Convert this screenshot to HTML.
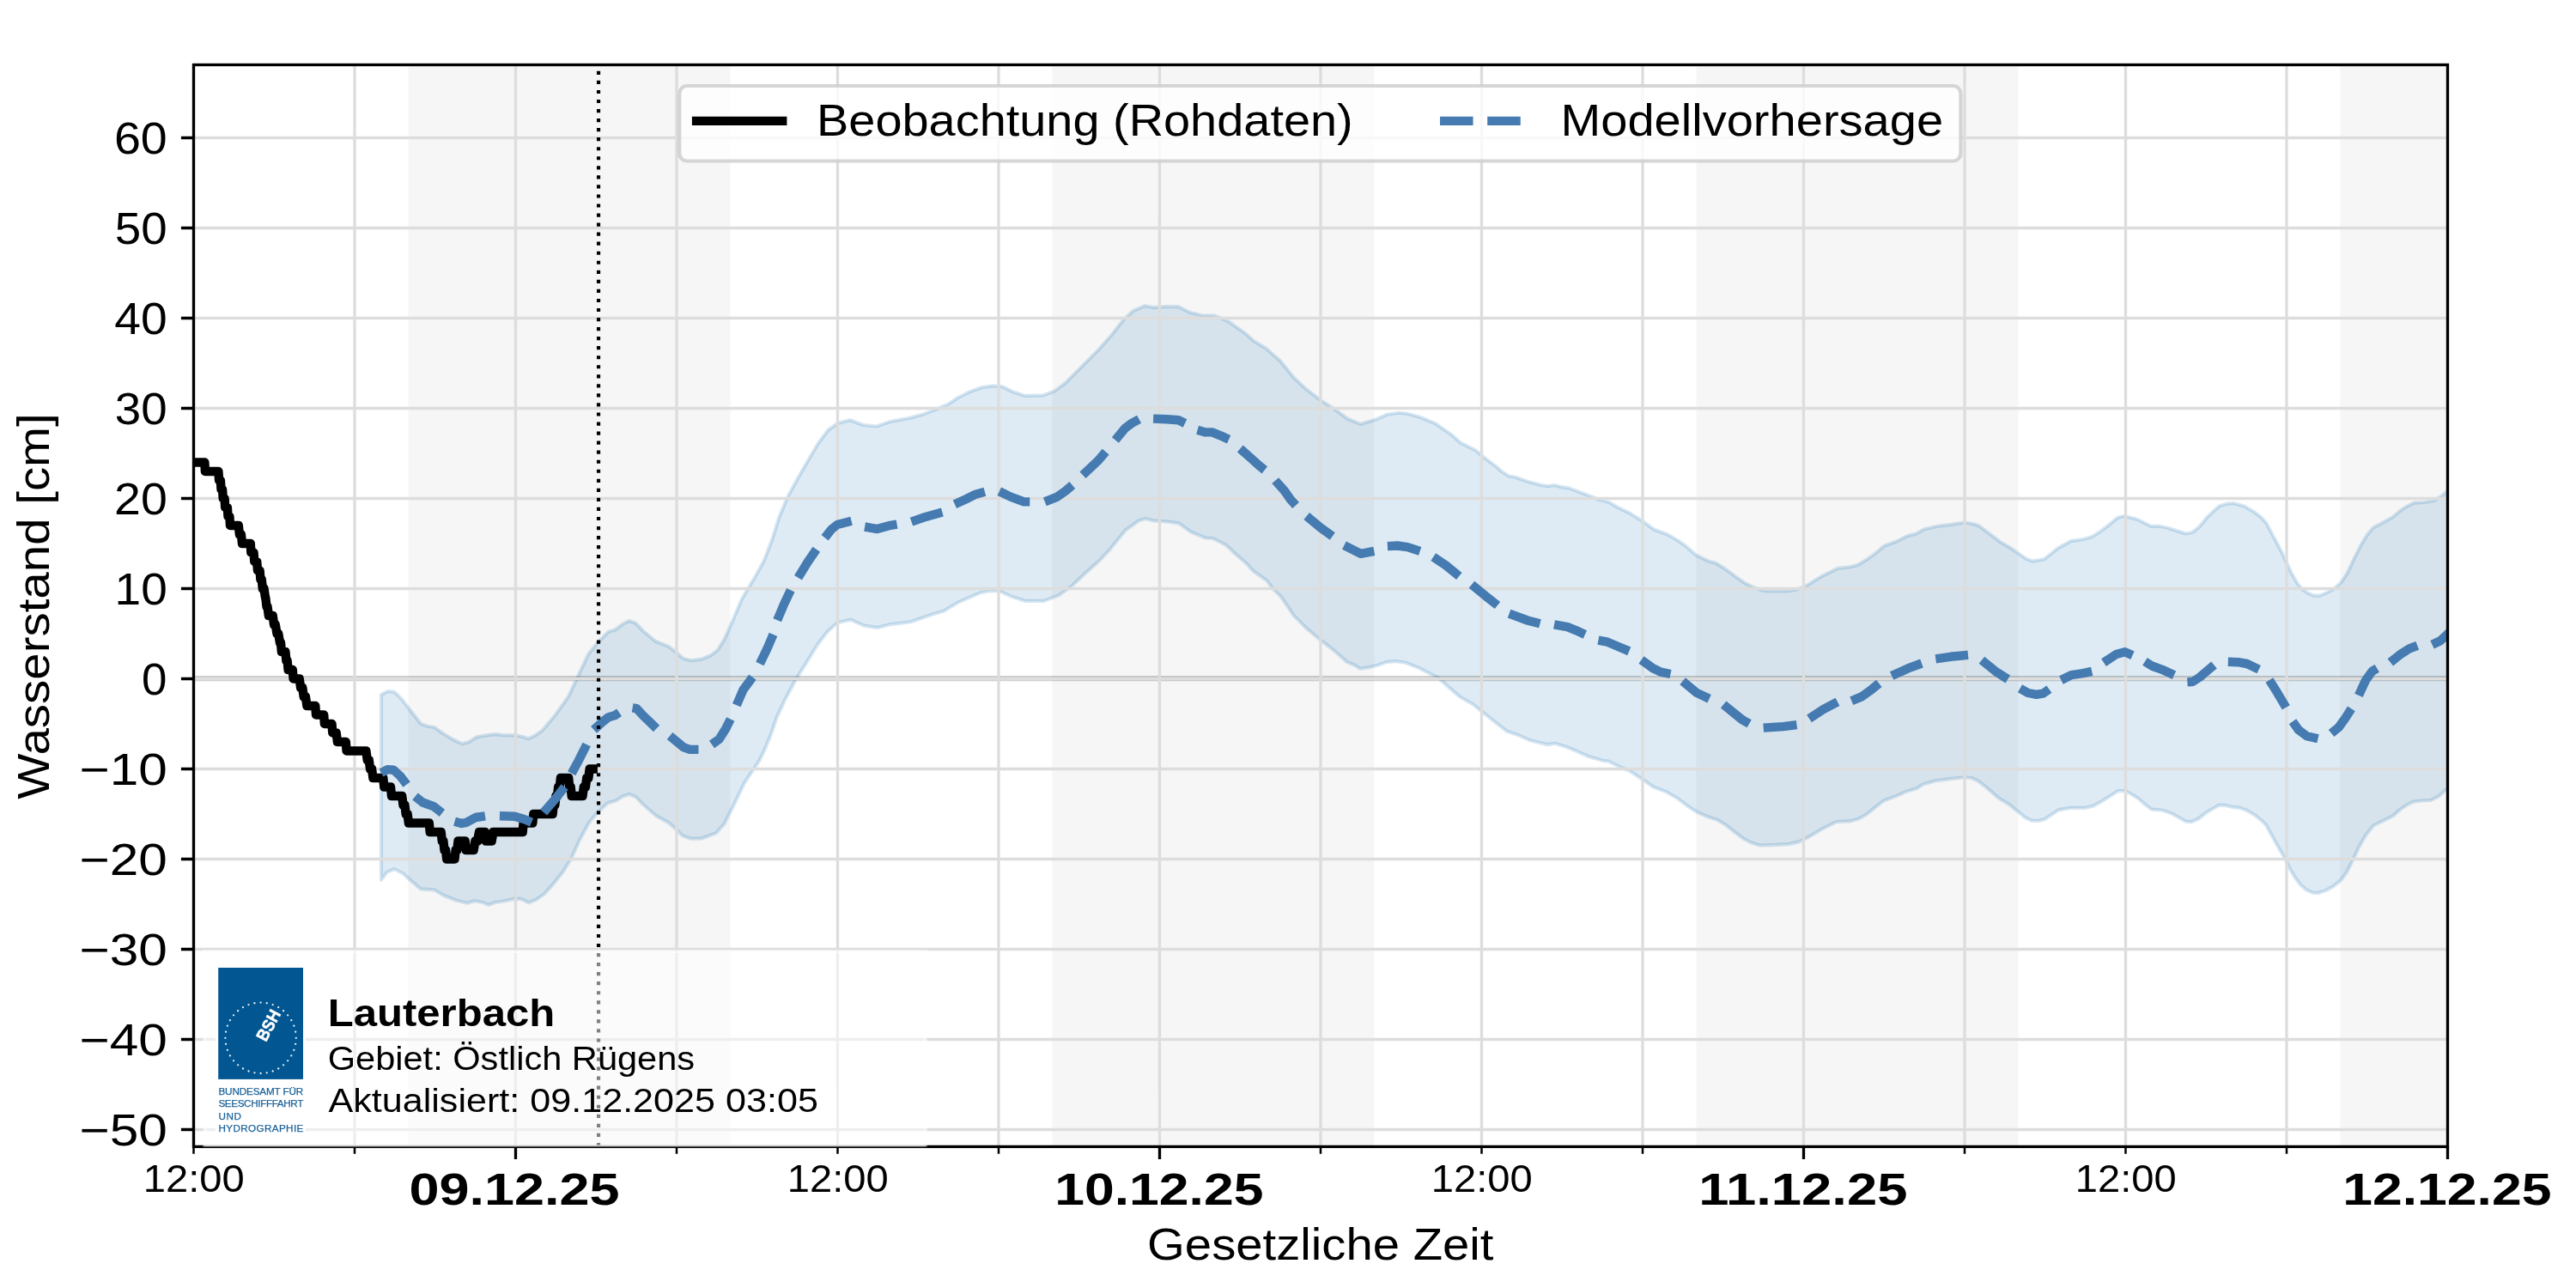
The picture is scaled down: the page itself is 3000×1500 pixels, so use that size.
<!DOCTYPE html>
<html lang="de"><head><meta charset="utf-8"><title>Wasserstand Lauterbach</title>
<style>html,body{margin:0;padding:0;background:#fff}svg{display:block;will-change:transform}text{font-family:"Liberation Sans",sans-serif;white-space:pre}</style>
</head><body>
<svg width="3000" height="1500" viewBox="0 0 3000 1500">
<rect width="3000" height="1500" fill="#fff"/>
<defs><clipPath id="ax"><rect x="225.5" y="75.5" width="2625" height="1259.9"/></clipPath></defs>
<g clip-path="url(#ax)">
<rect x="475.5" y="75.5" width="375" height="1259.9" fill="#f6f6f6"/>
<rect x="1225.5" y="75.5" width="375" height="1259.9" fill="#f6f6f6"/>
<rect x="1975.5" y="75.5" width="375" height="1259.9" fill="#f6f6f6"/>
<rect x="2725.5" y="75.5" width="125" height="1259.9" fill="#f6f6f6"/>
<polygon points="444,809.1 451.7,805 459.3,805.9 467.4,813.8 479.1,828.9 490.1,842.9 497.7,845.8 505.8,847 516.3,854.5 528,861.5 537.9,866.2 545.4,864.4 554.8,858.6 562.9,856.9 576.9,855.1 586.2,856.3 600.2,856.4 609.5,858.3 615.4,860.4 623.5,856.3 631.1,851.3 646.6,832.9 662.1,811.1 673,787.8 685.4,761.4 697,747.5 708.7,735.8 716.5,733.5 725.8,726.5 732.8,722.9 740.5,726 749.1,735 763,746.7 778.6,752.9 788.4,760.7 795.7,766.9 805,769.2 817.4,767.6 828.3,763 836,756.8 843.8,744.3 854.7,719.5 864,697.8 868.6,690 880,670.8 889.7,653.3 899.4,628.1 907.2,602.9 916.9,579.6 928.5,558.2 941.4,535.7 953,516.3 964.6,500.8 975.5,493 989.9,489.2 1005.4,495 1020.9,496.5 1036.5,491.1 1059.8,486.8 1075.3,482.4 1090.8,476.5 1104.4,470.7 1116,463 1129.6,456.2 1143.2,451.3 1156.8,449.4 1167.5,450.3 1180.1,456.6 1193.7,461 1215,460.4 1228.6,455.2 1240.3,446.5 1259.7,427.1 1279.1,407.6 1294.6,390.2 1308.2,372.7 1319.8,362 1333.4,356.2 1343.1,358.1 1358.7,357.2 1372.3,357.2 1385.8,364 1399.4,367.3 1413.6,367.5 1429.1,373.4 1450.5,388.5 1460.2,397.3 1474.7,406 1491.2,420.6 1506.8,440 1520.3,452.6 1538,466.2 1553.3,475.9 1568.9,487.5 1584.4,493.9 1603.8,487.9 1615.5,482.7 1629,480.7 1638.7,481.7 1654.3,486 1671.7,493.3 1691.1,506.9 1700.9,515.7 1718.3,524.4 1730,534.1 1741.6,542.8 1749.4,549.6 1757.1,554.5 1764.9,555.8 1780.4,561.3 1796,565.2 1802.8,566.1 1810.5,565 1819.3,567.4 1827,568.4 1846.4,575.8 1862,581.8 1874,585 1883.7,590.9 1897.3,597.3 1912.8,607 1926.4,616.7 1941.9,622.5 1953.6,629.3 1961.6,634.7 1975.2,646.4 1988.8,653.2 1998.5,656.1 2008.2,661.9 2019.9,670.6 2031.5,678.8 2043.2,684.6 2054.8,688.1 2068.4,688.5 2083.9,688.1 2093.6,686.2 2105.3,681.3 2120.8,671.6 2140.2,661.9 2153.8,660.5 2163.5,658 2173.2,652.2 2182.9,645.4 2194.6,635.7 2208.2,630.8 2221.7,624.1 2231.4,621.7 2241.1,616.3 2256.7,612.8 2272.2,610.9 2287.9,608.5 2299.4,610.5 2305.2,612.8 2314.9,620.2 2330.4,631.8 2342.1,638.6 2350.4,644.4 2359.6,650.8 2367.3,653.6 2380.9,651.2 2396.4,638.6 2411.8,630.1 2425.4,628.3 2436,625.2 2444,620.4 2454.3,612.8 2466,603.1 2473.8,601.1 2489.3,605 2504.8,612.8 2514.5,612.8 2524.2,614.7 2545.6,621.5 2553.3,620 2561.1,613.8 2570.8,602.1 2584.4,589.5 2594.1,586.6 2601.9,586.2 2613.5,589.5 2625.2,596.3 2632.9,602.1 2639.7,609.9 2648.4,626.4 2656.2,640.9 2663,655.5 2667.9,666.2 2675.6,679.8 2681.4,686.5 2689.2,691.4 2695,693.7 2701.8,693.7 2710.6,689.8 2718.3,685.6 2726.1,678.8 2733.9,667.1 2741.6,650.6 2749.4,635.1 2757.1,622.5 2763.9,614.7 2774.6,608.9 2786.3,602.5 2796,594.3 2803.7,589.5 2811.5,585.6 2823.1,585 2834.8,583.1 2844.5,576.9 2853,569.5 2853,915.5 2840.1,927.4 2830.7,932 2819.9,932.5 2810.6,933.6 2802.8,937.5 2795,942.9 2787.3,949.9 2776.4,955.3 2764,961.5 2754.7,973.2 2746.9,987.1 2739.9,1001.9 2732.9,1015.9 2725.2,1026 2717.4,1032.2 2708.9,1036.8 2700.3,1039.9 2693.3,1039.6 2685.6,1036.1 2678.6,1029.8 2672.4,1021.3 2666.9,1012 2661.5,1000.5 2653.7,987.1 2646,973.2 2639,960.7 2633.5,955.3 2625.8,949.1 2616.5,943.7 2608.7,940.9 2599.4,939.8 2592,937.9 2584.5,937.7 2579.4,940.5 2569.8,946 2560.3,953.5 2552.1,957.2 2545.7,956.7 2538,952.3 2529.3,947.4 2518,943.5 2505.9,942.7 2497.9,936.6 2490.1,929.8 2482.4,925 2475.4,921.1 2466.8,921.1 2457.1,927.3 2447.4,933.3 2437.7,938.6 2428,940.9 2410.6,940.9 2397,943.4 2389.2,948.7 2381.4,954.1 2373.7,956 2365.9,955.7 2358.2,951.8 2350.4,945.4 2340.7,937.6 2327.1,928.9 2313.5,917.2 2303.8,909.5 2296,906 2287.9,905.2 2270.8,907.1 2255.3,909.1 2239.8,913.3 2232,918.2 2220.3,921.7 2208.7,926.9 2193.2,932.8 2183.5,940.5 2173.8,948.3 2164.1,953.7 2154.3,956.4 2138.8,957 2121.4,965.7 2104.2,975.9 2094.5,980.6 2082.8,983.1 2063.4,984.1 2049.8,984.5 2040.1,981.6 2030.4,976.7 2018.8,968 2009.1,960.2 1999.4,954.4 1989.7,951.5 1976.1,945.7 1964.4,937.9 1952.8,929.2 1941.1,922.4 1925.6,916.5 1913,907.8 1898.4,898.1 1884.9,892.3 1873.2,886.5 1867.4,886.1 1849.9,881 1836.3,874.8 1824.7,870 1811.1,865.7 1803.3,867.1 1797.5,866.1 1782,862.2 1766.5,855.4 1754.8,851.5 1741.2,840.8 1727.6,830.2 1716,820.5 1700.5,811.7 1686.9,800.1 1675.2,789.4 1661.6,782.6 1652.5,777.9 1637,771.7 1626.1,770.1 1615.2,770.9 1604.3,774.8 1595,777.1 1584.2,778.7 1578,774.8 1568.6,770.9 1554.7,758.5 1538,745.3 1522,732.1 1506.5,716.6 1498.8,704.9 1491,694 1481.7,684.7 1475.5,676.2 1459.9,665.3 1451.4,656 1439.8,645.9 1427.3,634.3 1412.6,627 1404,626.5 1387,619.5 1373,609.4 1359,607.4 1342.7,606.3 1334.2,604 1326.4,606.3 1310.9,617.3 1293.4,638.8 1279.9,653.3 1262.4,668.9 1246.9,683.4 1233.3,693.1 1215.8,699.9 1194.4,699.9 1178.9,695.1 1163,687.9 1151.7,688.3 1142,690.2 1130.4,695.1 1114.9,701.9 1099.3,711.6 1085.7,715.5 1060.5,724.2 1037.2,727.1 1021.7,731 1006.2,728.6 990.6,721.7 975.1,725.2 963.5,735.8 952.5,750 941.6,767.6 926.1,792.5 913.7,815.8 904.3,836 898.1,854.6 890.4,873.2 884.5,885.5 878.4,894.6 866.7,912 855.1,936.3 843.4,959.6 833.7,970.3 816.3,976.7 804.6,976.7 794.9,973.2 788.1,966.4 779.4,958.6 763.9,949.9 748.3,936.3 740.6,928.1 732.8,925 725,927.6 717.3,932.4 707.6,935.3 696.9,945 686.2,957.6 674.6,979 664.9,1000.3 655.2,1015.9 643.5,1030.4 633.8,1041.1 624.1,1047.9 615.4,1051.2 606.6,1046.9 598.9,1046.9 585.3,1049.8 577.5,1050.8 568.8,1053.7 562,1050.8 552.3,1049.3 544.5,1051.8 530.9,1048.5 517.3,1043 505.7,1036.3 490.2,1035.3 478.5,1025.6 468.8,1016.8 459.1,1012 450.4,1015.9 444,1024.6" fill="rgba(31,119,180,0.15)" stroke="rgba(31,119,180,0.19)" stroke-width="4.17" stroke-linejoin="round"/>
<line x1="225.5" x2="2850.5" y1="790.05" y2="790.05" stroke="rgba(0,0,0,0.2)" stroke-width="6.25"/>
<path d="M225.5 75.5V1335.4M413 75.5V1335.4M600.5 75.5V1335.4M788 75.5V1335.4M975.5 75.5V1335.4M1163 75.5V1335.4M1350.5 75.5V1335.4M1538 75.5V1335.4M1725.5 75.5V1335.4M1913 75.5V1335.4M2100.5 75.5V1335.4M2288 75.5V1335.4M2475.5 75.5V1335.4M2663 75.5V1335.4M2850.5 75.5V1335.4M225.5 1315.5H2850.5M225.5 1210.5H2850.5M225.5 1105.5H2850.5M225.5 1000.5H2850.5M225.5 895.5H2850.5M225.5 790.5H2850.5M225.5 685.5H2850.5M225.5 580.5H2850.5M225.5 475.5H2850.5M225.5 370.5H2850.5M225.5 265.5H2850.5M225.5 160.5H2850.5" stroke="#dddddd" stroke-width="3.33" fill="none"/>
<path d="M225.5 538.5 L238.4 538.5 L238.9 549 L254.4 549 L255.1 559.5 L256.9 559.5 L257.5 570 L259.1 570 L259.7 580.5 L261.6 580.5 L262.2 591 L264.9 591 L265.5 601.5 L267.4 601.5 L268 612 L277.8 612 L278.9 622.5 L280.9 622.5 L282 633 L291.8 633 L292.3 643.5 L295.5 643.5 L296.3 654 L299.2 654 L300 664.5 L302.6 664.5 L303.4 675 L304.8 675 L305.8 685.5 L307.5 685.5 L309 696 L309.3 696 L310.5 706.5 L311.5 706.5 L312.9 717 L317.7 717 L319.1 727.5 L320.8 727.5 L322.5 738 L324.2 738 L326 748.5 L327 748.5 L327.9 759 L332.4 759 L333.4 769.5 L334.6 769.5 L335.6 780 L340.8 780 L341.6 790.5 L348.7 790.5 L350.15 801 L352.32 801 L353.77 811.5 L355.95 811.5 L357.4 822 L367.3 822 L368 832.5 L377.2 832.5 L377.9 843 L386.5 843 L387.3 853.5 L391.7 853.5 L392.9 864 L402.8 864 L403.6 874.5 L426.4 874.5 L427.73 885 L429.73 885 L431.07 895.5 L433.07 895.5 L434.4 906 L446.3 906 L447.3 916.5 L455 916.5 L456 927 L468.2 927 L469.48 937.5 L471.41 937.5 L472.69 948 L474.62 948 L475.9 958.5 L499.8 958.5 L500.7 969 L513.7 969 L514.78 979.5 L516.41 979.5 L517.49 990 L519.12 990 L520.2 1000.5 L529.5 1000.5 L530.64 990 L532.36 990 L533.5 979.5 L541.7 979.5 L542.7 990 L551.6 990 L553.43 979.5 L556.17 979.5 L558 969 L564.8 969 L565.8 979.5 L572.6 979.5 L574.4 969 L608.7 969 L609.6 958.5 L620.3 958.5 L621.3 948 L643.6 948 L644.69 937.5 L646.34 937.5 L647.43 927 L649.07 927 L650.16 916.5 L651.81 916.5 L652.9 906 L662.2 906 L663.2 916.5 L664.7 916.5 L665.7 927 L678.5 927 L679.87 916.5 L681.92 916.5 L683.28 906 L685.33 906 L686.7 895.5 L695.9 895.5" stroke="#000" stroke-width="10.42" fill="none" stroke-linejoin="round" stroke-linecap="butt"/>
<path d="M444 900 L451.4 896.1 L458.4 896.7 L466.6 904.3 L473.6 913.6M483.5 927.5 L492.2 934.5 L505 939.2 L514.9 946.8M529.5 956.7 L537.6 959 L543.4 957.8 L553.9 952 L565 950.3M581.9 950.3 L599.3 950.8 L611 954.3 L619.1 957.8M633.1 946.2 L647.1 929.9 L657.6 916.5M665.7 900.8 L673.9 885.6 L683.2 867M691.6 849.9 L700.9 841.4 L708.7 835.2 L716.5 832.9 L721.1 829.8M736.6 824.3 L741.3 825.1 L749.1 833.6 L764.6 848.4M780.1 856.9 L795.7 870.1 L803.4 872.9 L813.5 872.9M829 867 L837.6 860.8 L845.3 848.4 L850.8 837.5M857.8 821.2 L865.5 803.4 L876.4 788.6M884.9 773.1 L893.5 755.2 L900.5 738.9M905.2 722.2 L913 703.8 L920.8 687.3M929.5 672.7 L940.2 655.3 L950.8 639.8M960.6 626.2 L968.3 616.5 L975.1 611 L991.6 606.8M1007.1 613.5 L1021.7 616.1 L1035.3 612.2 L1044.6 610.6M1061.5 607.7 L1078 601.9 L1097.4 596.5M1111.9 587.3 L1124.6 581.5 L1136.2 575.7 L1146.9 572.8M1163.8 572.2 L1177 578.6 L1192.5 584.4 L1199.3 584.4M1216.8 584.4 L1231.3 578.6 L1241 571.8 L1248.8 565M1261 553.3 L1278.5 536.8 L1287.7 526.1M1298.9 512.5 L1310.1 498.9 L1317.9 493 L1326.6 488.2M1343.1 487.6 L1358.7 488.2 L1372.3 489.2 L1380 493M1394.6 500.8 L1403 503.2 L1411.6 503.4 L1421.4 507.3 L1431.1 511.8M1444.3 522.5 L1456.3 533.1 L1466 541.9 L1472.8 547.3M1485.2 559.6 L1495.8 571.5 L1503 581.7 L1509.1 588.5M1521.7 601.1 L1538.2 614.7 L1551.8 624.4M1565.4 635.1 L1584.8 644.8 L1600.3 641.9M1615.9 636.1 L1627.5 635.5 L1639.2 637.1 L1653.7 641.9M1669.2 648.7 L1683.8 658.4 L1699.3 671M1713.9 680.7 L1730.4 694.3 L1744 705M1757.6 714.7 L1778.9 722.5 L1793.5 726.3M1810 727.3 L1825.5 730.2 L1835.2 734.1 L1845.9 739M1861.4 745.7 L1872.1 747.7 L1885.7 753.5 L1897.3 758.4M1911.5 768.5 L1925 778.2 L1934.2 782.6 L1945.5 785M1959.6 793.3 L1976.1 806.9 L1990.6 813.7M2007.1 820.5 L2028.5 837.9 L2037.2 842.8M2053.7 847.6 L2077 846.1 L2092.5 844.1M2107 836.8 L2123.4 826.1 L2140 817.4M2156.3 816.3 L2167.9 811.4 L2177.6 804.6 L2188.3 795.9M2203.1 787.1 L2222 778.4 L2238 772.5M2254.3 767.3 L2271.5 764.8 L2292 762.8M2307.9 768.7 L2324 781.8 L2338.3 791M2352.5 801.7 L2361.8 807 L2371.5 808.8 L2379.5 807.6 L2386.4 802.6M2400.4 792 L2412.3 786.1 L2425.8 784.2 L2436.2 781.8M2450 771.6 L2464.5 762 L2474.7 759.3 L2483.5 763.2M2498 770.3 L2506 775.5 L2518 779.8 L2532 786.3M2547.4 794.4 L2553.5 794 L2562 788.5 L2570.3 781.4 L2578.5 774.5M2594.8 770.8 L2606.5 771.2 L2616.8 773 L2630.7 779.6M2642.9 792 L2652.2 806.8 L2662.3 823.9M2670 840.2 L2677 850.2 L2686.3 857.2 L2699.5 860.3M2715.1 854.1 L2723.6 847.1 L2731.4 836.3 L2738.4 825.4M2746.9 809.9 L2754.9 792.5 L2762.6 781.8 L2768.3 778.4M2783.8 771.4 L2795.5 762 L2806 755.4 L2815.3 751.8M2832.5 750.8 L2842 746.3 L2853 736" stroke="#457bb0" stroke-width="10.42" fill="none" stroke-linejoin="round" stroke-linecap="butt"/>
<path d="M697.05 1335.05 V55.5" stroke="#000" stroke-width="4.17" stroke-dasharray="4.17 6.875" fill="none"/>
</g>
<g clip-path="url(#ax)">
<rect x="791.3" y="100" width="1492.1" height="87.5" rx="9" ry="9" fill="rgba(255,255,255,0.8)" stroke="rgba(204,204,204,0.8)" stroke-width="4.17"/>
<line x1="805.9" x2="916.4" y1="140.9" y2="140.9" stroke="#000" stroke-width="10.42"/>
<path d="M1677 140.9H1777" stroke="#457bb0" stroke-width="10.42" stroke-dasharray="38.54 16.67" fill="none"/>
</g>
<text transform="translate(951.06 158.4) scale(1.0650 1)" font-size="52.5" fill="#000">Beobachtung (Rohdaten)</text>
<text transform="translate(1817.55 158.4) scale(1.0680 1)" font-size="52.5" fill="#000">Modellvorhersage</text>
<rect x="225.5" y="75.5" width="2625" height="1259.9" fill="none" stroke="#000" stroke-width="3.33"/>
<path d="M225.5 1315.5H210.92M225.5 1210.5H210.92M225.5 1105.5H210.92M225.5 1000.5H210.92M225.5 895.5H210.92M225.5 790.5H210.92M225.5 685.5H210.92M225.5 580.5H210.92M225.5 475.5H210.92M225.5 370.5H210.92M225.5 265.5H210.92M225.5 160.5H210.92M600.5 1335.4V1349.98M1350.5 1335.4V1349.98M2100.5 1335.4V1349.98M2850.5 1335.4V1349.98" stroke="#000" stroke-width="3.33" fill="none"/>
<path d="M225.5 1335.4V1343.73M413 1335.4V1343.73M788 1335.4V1343.73M975.5 1335.4V1343.73M1163 1335.4V1343.73M1538 1335.4V1343.73M1725.5 1335.4V1343.73M1913 1335.4V1343.73M2288 1335.4V1343.73M2475.5 1335.4V1343.73M2663 1335.4V1343.73" stroke="#000" stroke-width="2.5" fill="none"/>
<g clip-path="url(#ax)">
<rect x="238.2" y="1108" width="839.5" height="227.4" fill="rgba(255,255,255,0.5)" stroke="rgba(255,255,255,0.5)" stroke-width="4.17"/>
</g>
<text transform="translate(92.51 1333.8) scale(1.1494 1)" font-size="52.5" fill="#000">−50</text>
<text transform="translate(92.51 1228.8) scale(1.1494 1)" font-size="52.5" fill="#000">−40</text>
<text transform="translate(92.51 1123.8) scale(1.1494 1)" font-size="52.5" fill="#000">−30</text>
<text transform="translate(92.51 1018.8) scale(1.1494 1)" font-size="52.5" fill="#000">−20</text>
<text transform="translate(92.51 913.8) scale(1.1494 1)" font-size="52.5" fill="#000">−10</text>
<text transform="translate(165.12 808.8) scale(1.0072 1)" font-size="52.5" fill="#000">0</text>
<text transform="translate(133.55 703.8) scale(1.0479 1)" font-size="52.5" fill="#000">10</text>
<text transform="translate(133.02 598.8) scale(1.0572 1)" font-size="52.5" fill="#000">20</text>
<text transform="translate(133.87 493.8) scale(1.0421 1)" font-size="52.5" fill="#000">30</text>
<text transform="translate(133.31 388.8) scale(1.0522 1)" font-size="52.5" fill="#000">40</text>
<text transform="translate(133.86 283.8) scale(1.0423 1)" font-size="52.5" fill="#000">50</text>
<text transform="translate(132.89 178.8) scale(1.0595 1)" font-size="52.5" fill="#000">60</text>
<text transform="translate(166.81 1388) scale(1.0779 1)" font-size="43.75" fill="#000">12:00</text>
<text transform="translate(916.81 1388) scale(1.0779 1)" font-size="43.75" fill="#000">12:00</text>
<text transform="translate(1666.81 1388) scale(1.0779 1)" font-size="43.75" fill="#000">12:00</text>
<text transform="translate(2416.81 1388) scale(1.0779 1)" font-size="43.75" fill="#000">12:00</text>
<text transform="translate(476.39 1402.5) scale(1.1995 1)" font-size="52.5" font-weight="bold" fill="#000">09.12.25</text>
<text transform="translate(1228.25 1402.5) scale(1.1903 1)" font-size="52.5" font-weight="bold" fill="#000">10.12.25</text>
<text transform="translate(1978.19 1402.5) scale(1.2078 1)" font-size="52.5" font-weight="bold" fill="#000">11.12.25</text>
<text transform="translate(2728.25 1402.5) scale(1.1903 1)" font-size="52.5" font-weight="bold" fill="#000">12.12.25</text>
<text transform="translate(1336.08 1466.7) scale(1.0722 1)" font-size="52.5" fill="#000">Gesetzliche Zeit</text>
<text transform="translate(56.7 930.68) rotate(-90) scale(1.0749 1)" font-size="52.5" fill="#000">Wasserstand [cm]</text>
<g>
<rect x="250.9" y="1123.5" width="105.1" height="198.5" fill="#fff"/>
<rect x="254.2" y="1127" width="98.8" height="129.9" fill="#025792"/>
<g fill="#fff" fill-opacity="0.92"><circle cx="344.8" cy="1208.8" r="1.15"/><circle cx="344.17" cy="1215.95" r="1.15"/><circle cx="342.32" cy="1222.89" r="1.15"/><circle cx="339.28" cy="1229.4" r="1.15"/><circle cx="335.16" cy="1235.28" r="1.15"/><circle cx="330.08" cy="1240.36" r="1.15"/><circle cx="324.2" cy="1244.48" r="1.15"/><circle cx="317.69" cy="1247.52" r="1.15"/><circle cx="310.75" cy="1249.37" r="1.15"/><circle cx="303.6" cy="1250" r="1.15"/><circle cx="296.45" cy="1249.37" r="1.15"/><circle cx="289.51" cy="1247.52" r="1.15"/><circle cx="283" cy="1244.48" r="1.15"/><circle cx="277.12" cy="1240.36" r="1.15"/><circle cx="272.04" cy="1235.28" r="1.15"/><circle cx="267.92" cy="1229.4" r="1.15"/><circle cx="264.88" cy="1222.89" r="1.15"/><circle cx="263.03" cy="1215.95" r="1.15"/><circle cx="262.4" cy="1208.8" r="1.15"/><circle cx="263.03" cy="1201.65" r="1.15"/><circle cx="264.88" cy="1194.71" r="1.15"/><circle cx="267.92" cy="1188.2" r="1.15"/><circle cx="272.04" cy="1182.32" r="1.15"/><circle cx="277.12" cy="1177.24" r="1.15"/><circle cx="283" cy="1173.12" r="1.15"/><circle cx="289.51" cy="1170.08" r="1.15"/><circle cx="296.45" cy="1168.23" r="1.15"/><circle cx="303.6" cy="1167.6" r="1.15"/><circle cx="310.75" cy="1168.23" r="1.15"/><circle cx="317.69" cy="1170.08" r="1.15"/><circle cx="324.2" cy="1173.12" r="1.15"/><circle cx="330.08" cy="1177.24" r="1.15"/><circle cx="335.16" cy="1182.32" r="1.15"/><circle cx="339.28" cy="1188.2" r="1.15"/><circle cx="342.32" cy="1194.71" r="1.15"/><circle cx="344.17" cy="1201.65" r="1.15"/></g>
<text transform="translate(309.8 1214.1) rotate(-62)" font-size="20" font-weight="bold" fill="#fff" stroke="#fff" stroke-width="0.5" textLength="38" lengthAdjust="spacingAndGlyphs">BSH</text>
<text x="254.4" y="1274.6" font-size="11.7" fill="#1c6299" stroke="#1c6299" stroke-width="0.25" textLength="98.9" lengthAdjust="spacing">BUNDESAMT FÜR</text>
<text x="254.4" y="1289.1" font-size="11.7" fill="#1c6299" stroke="#1c6299" stroke-width="0.25" textLength="98.9" lengthAdjust="spacing">SEESCHIFFFAHRT</text>
<text x="254.4" y="1303.7" font-size="11.7" fill="#1c6299" stroke="#1c6299" stroke-width="0.25" textLength="26.5" lengthAdjust="spacing">UND</text>
<text x="254.4" y="1318.4" font-size="11.7" fill="#1c6299" stroke="#1c6299" stroke-width="0.25" textLength="98.9" lengthAdjust="spacing">HYDROGRAPHIE</text>
</g>
<text transform="translate(381.74 1194.8) scale(1.1220 1)" font-size="43.75" font-weight="bold" fill="#000">Lauterbach</text>
<text transform="translate(381.68 1246.3) scale(1.0560 1)" font-size="39.38" fill="#000">Gebiet: Östlich Rügens</text>
<text transform="translate(382.47 1294.8) scale(1.0950 1)" font-size="39.38" fill="#000">Aktualisiert: 09.12.2025 03:05</text>
</svg></body></html>
